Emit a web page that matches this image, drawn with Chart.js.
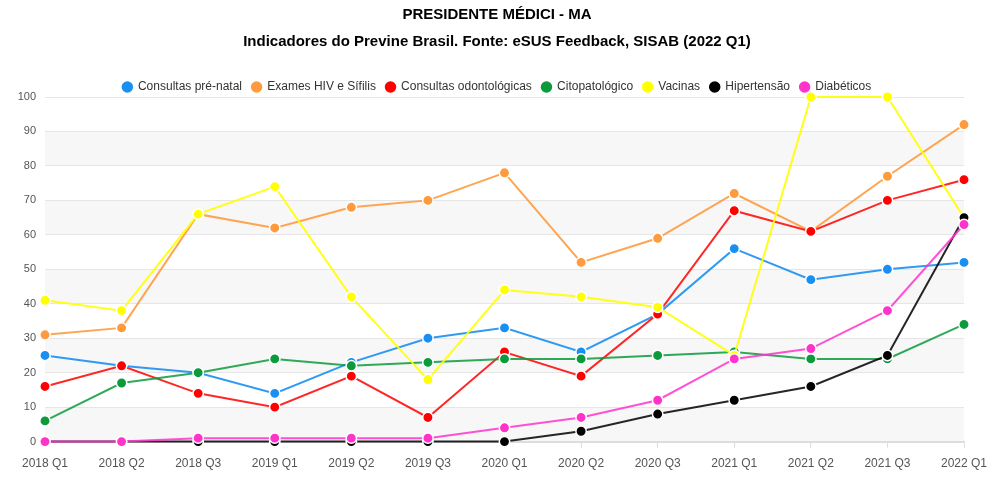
<!DOCTYPE html>
<html><head><meta charset="utf-8">
<script src="https://cdn.jsdelivr.net/npm/chart.js@4"></script>
<style>html,body{margin:0;padding:0;background:#fff}#wrap{width:998px;height:480px}</style>
</head><body><div id="wrap"><canvas id="c" width="998" height="480"></canvas></div>
<script>
const categories = ["2018 Q1","2018 Q2","2018 Q3","2019 Q1","2019 Q2","2019 Q3","2020 Q1","2020 Q2","2020 Q3","2021 Q1","2021 Q2","2021 Q3","2022 Q1"];
const seriesNames = ["Consultas pré-natal","Exames HIV e Sífilis","Consultas odontológicas","Citopatológico","Vacinas","Hipertensão","Diabéticos"];
const preNatal   = [25,22,20,14,23,30,33,26,37,56,47,50,52];
const hivSifilis = [31,33,66,62,68,70,78,52,59,72,61,77,92];
const odonto     = [16,22,14,10,19,7,26,19,37,67,61,70,76];
const citopato   = [6,17,20,24,22,23,24,24,25,26,24,24,34];
const vacinas    = [41,38,66,74,42,18,44,42,39,25,100,100,65];
const hipertensao= [0,0,0,0,0,0,0,3,8,12,16,25,65];
const diabeticos = [0,0,1,1,1,1,4,7,12,24,27,38,63];
const yTicks = [0,10,20,30,40,50,60,70,80,90,100];
const colors = ["#1a8ff2","#ff9a3d","#ff0000","#0b9b3c","#ffff00","#000000","#ff33cc"];
const lineColors = ["rgba(26,143,242,0.9)","rgba(255,154,61,0.9)","rgba(255,0,0,0.85)","rgba(11,155,60,0.85)","rgba(255,255,0,0.9)","rgba(0,0,0,0.85)","rgba(255,51,204,0.85)"];
const seriesData = [preNatal,hivSifilis,odonto,citopato,vacinas,hipertensao,diabeticos];

const bands = {
  id:'bands',
  beforeDraw(chart){
    const {ctx, chartArea:a, scales:{y}} = chart;
    ctx.save();
    ctx.fillStyle = '#f7f7f7';
    for(let i=0;i<yTicks.length-1;i++){
      const lo=yTicks[i], hi=yTicks[i+1];
      if(hi % 20 === 0) continue;
      const top=y.getPixelForValue(hi), bot=y.getPixelForValue(lo);
      ctx.fillRect(a.left, top, a.right-a.left, bot-top);
    }
    ctx.restore();
  }
};
const legendFit = {
  id:'legendFit',
  beforeLayout(chart){
    const lg = chart.legend;
    if(lg && !lg._patched){
      const f = lg.fit;
      lg.fit = function(){ f.call(this); this.height = Math.max(0, this.height - 6); };
      lg._patched = true;
    }
  }
};

const FONT = "'Liberation Sans', Arial, sans-serif";
new Chart(document.getElementById('c'), {
  type:'line',
  data:{
    labels:categories,
    datasets: seriesNames.map((n,i)=>({
      label:n, data:seriesData[i],
      borderColor:lineColors[i], backgroundColor:colors[i],
      pointBackgroundColor:colors[i], pointBorderColor:'#fff',
      pointBorderWidth:1.5, pointRadius:5.2, pointHoverRadius:5.2,
      borderWidth:2, tension:0, clip:false, order: seriesNames.length-i
    }))
  },
  options:{
    responsive:false, animation:false,
    layout:{padding:{left:17,right:21,top:6,bottom:0}},
    plugins:{
      title:{display:true,text:'PRESIDENTE MÉDICI - MA',color:'#000',font:{family:FONT,size:15,weight:'bold'},padding:{top:0,bottom:9}},
      subtitle:{display:true,text:'Indicadores do Previne Brasil. Fonte: eSUS Feedback, SISAB (2022 Q1)',color:'#000',font:{family:FONT,size:15,weight:'bold'},padding:{top:0,bottom:20}},
      legend:{position:'top',labels:{usePointStyle:true,pointStyle:'circle',boxWidth:9.2,boxHeight:9.2,padding:10,color:'#333',font:{family:FONT,size:12},
        sort:(a,b)=>a.datasetIndex-b.datasetIndex}},
      tooltip:{enabled:false}
    },
    scales:{
      x:{offset:false,grid:{display:true,drawOnChartArea:false,drawTicks:true,tickLength:6,color:'#ddd'},border:{color:'#ddd',width:2},
         afterFit:(s)=>{s.paddingRight=34;},
         ticks:{color:'#555',font:{family:FONT,size:12},maxRotation:0,autoSkip:false,padding:9}},
      y:{min:0,max:100,afterBuildTicks:(s)=>{s.ticks=yTicks.map(v=>({value:v}));},
         afterFit:(s)=>{s.width=28;},
         grid:{color:'#e6e6e6',drawTicks:false,lineWidth:(c)=>c.tick&&c.tick.value===0?0:1},border:{display:false},
         ticks:{color:'#555',font:{family:FONT,size:11},padding:9}}
    }
  },
  plugins:[bands, legendFit]
});
</script></body></html>
